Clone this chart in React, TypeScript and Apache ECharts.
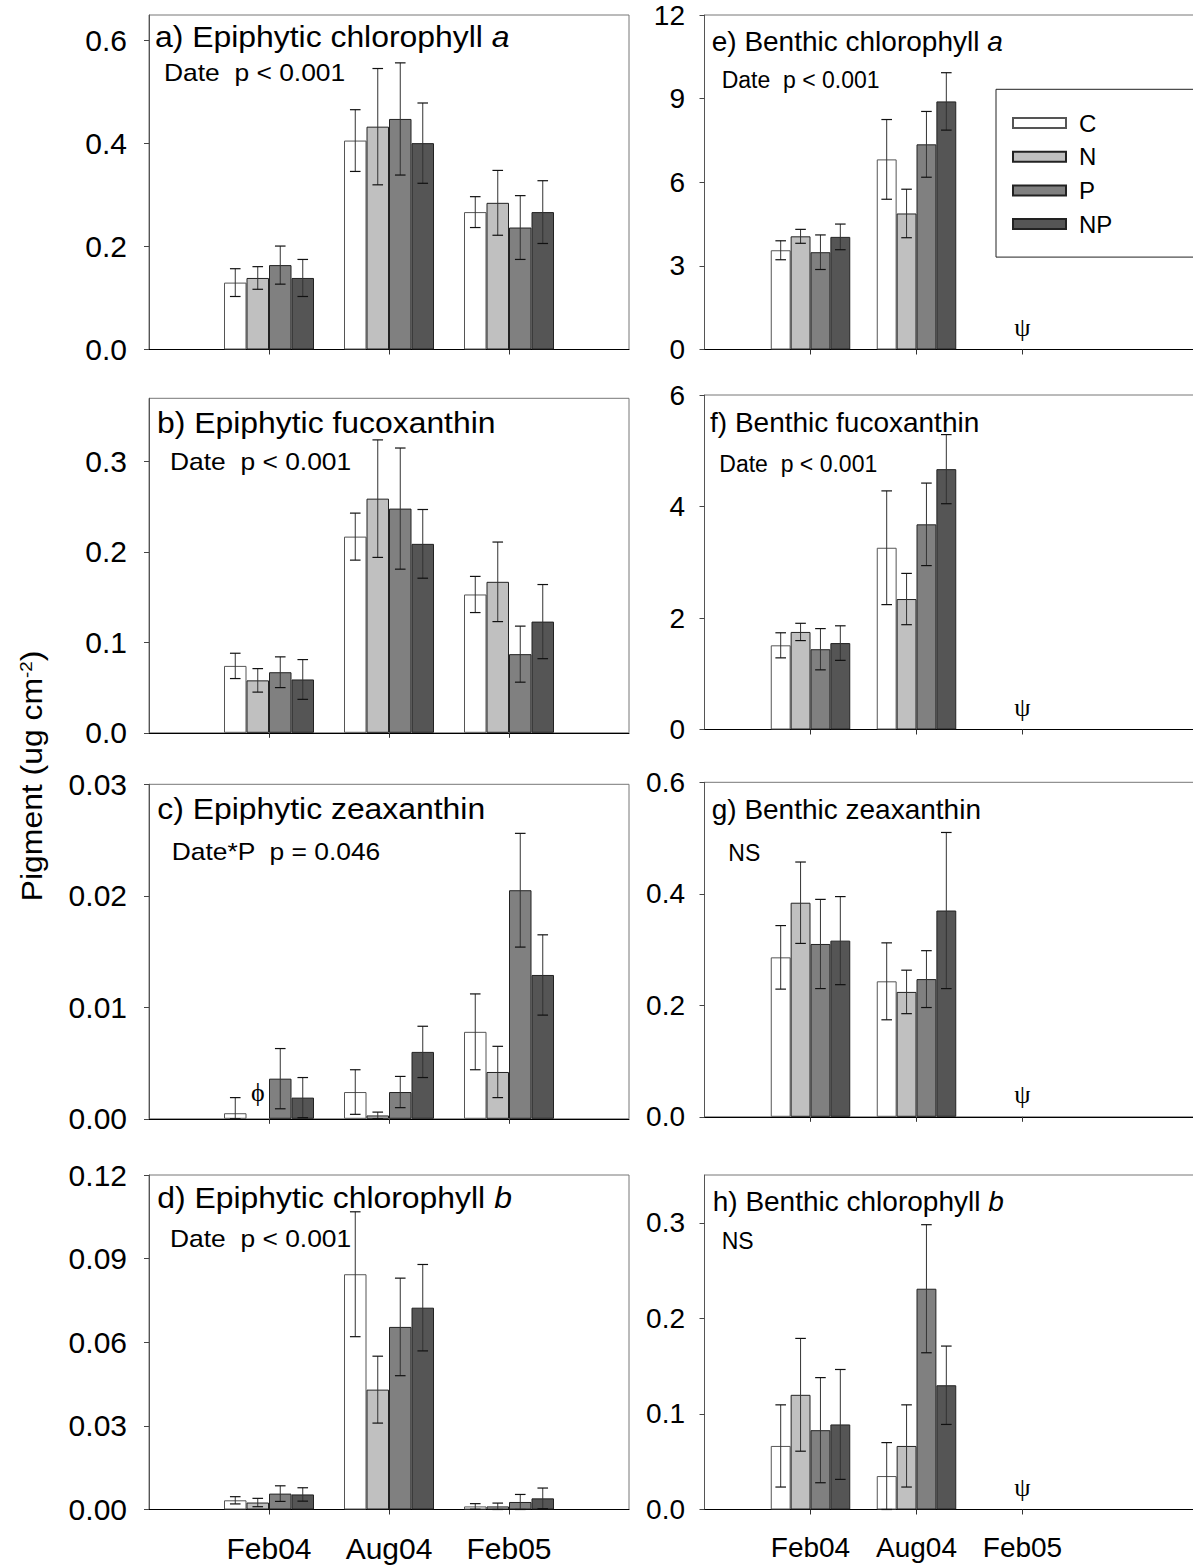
import React, { useEffect, useRef } from 'react';
import * as echarts from 'echarts';

// ---------------- data ----------------
const dates = ['Feb04', 'Aug04', 'Feb05'];
const treatments = ['C', 'N', 'P', 'NP'];
const treatmentColors = ['#ffffff', '#c0c0c0', '#808080', '#555555'];
const treatmentBorders = ['#555555', '#222222', '#222222', '#222222'];

// rows: treatment (C, N, P, NP); columns: date (Feb04, Aug04, Feb05); null = no data
const epiChlaMean = [[0.130, 0.406, 0.267], [0.139, 0.433, 0.285], [0.164, 0.448, 0.237], [0.139, 0.401, 0.267]];
const epiChlaErr = [[0.027, 0.060, 0.030], [0.022, 0.113, 0.063], [0.037, 0.109, 0.062], [0.036, 0.078, 0.061]];
const epiChlaTicks = ['0.0', '0.2', '0.4', '0.6'];

const epiFucoMean = [[0.074, 0.217, 0.153], [0.058, 0.259, 0.167], [0.067, 0.248, 0.087], [0.059, 0.209, 0.123]];
const epiFucoErr = [[0.014, 0.026, 0.020], [0.013, 0.065, 0.044], [0.017, 0.067, 0.031], [0.022, 0.038, 0.041]];
const epiFucoTicks = ['0.0', '0.1', '0.2', '0.3'];

const epiZeaMean = [[0.0005, 0.0024, 0.0078], [null, 0.0003, 0.0042], [0.0036, 0.0024, 0.0205], [0.0019, 0.0060, 0.0129]];
const epiZeaErr = [[0.0014, 0.0020, 0.0034], [0, 0.0003, 0.0023], [0.0027, 0.0014, 0.0051], [0.0018, 0.0023, 0.0036]];
const epiZeaTicks = ['0.00', '0.01', '0.02', '0.03'];

const epiChlbMean = [[0.0033, 0.0844, 0.0011], [0.0025, 0.0430, 0.0011], [0.0057, 0.0655, 0.0027], [0.0054, 0.0724, 0.0040]];
const epiChlbErr = [[0.0013, 0.0224, 0.0010], [0.0015, 0.0120, 0.0012], [0.0028, 0.0175, 0.0027], [0.0024, 0.0155, 0.0037]];
const epiChlbTicks = ['0.00', '0.03', '0.06', '0.09', '0.12'];

const benChlaMean = [[3.56, 6.82, null], [4.06, 4.88, null], [3.49, 7.36, null], [4.04, 8.90, null]];
const benChlaErr = [[0.34, 1.43, 0], [0.25, 0.87, 0], [0.62, 1.18, 0], [0.46, 1.03, 0]];
const benChlaTicks = ['0', '3', '6', '9', '12'];

const benFucoMean = [[1.51, 3.26, null], [1.75, 2.34, null], [1.44, 3.68, null], [1.55, 4.67, null]];
const benFucoErr = [[0.225, 1.02, 0], [0.155, 0.46, 0], [0.37, 0.74, 0], [0.31, 0.62, 0]];
const benFucoTicks = ['0', '2', '4', '6'];

const benZeaMean = [[0.286, 0.243, null], [0.384, 0.224, null], [0.310, 0.247, null], [0.316, 0.370, null]];
const benZeaErr = [[0.057, 0.069, 0], [0.073, 0.039, 0], [0.080, 0.051, 0], [0.079, 0.140, 0]];
const benZeaTicks = ['0.0', '0.2', '0.4', '0.6'];

const benChlbMean = [[0.0665, 0.035, null], [0.120, 0.0665, null], [0.083, 0.231, null], [0.089, 0.130, null]];
const benChlbErr = [[0.043, 0.035, 0], [0.059, 0.043, 0], [0.055, 0.067, 0], [0.0575, 0.041, 0]];
const benChlbTicks = ['0.0', '0.1', '0.2', '0.3'];

const yMaxValues = [0.65, 0.37, 0.03, 0.12, 12, 6, 0.6, 0.35];

const panelTitles = [
  ['a) Epiphytic chlorophyll ', 'a'],
  ['b) Epiphytic fucoxanthin', ''],
  ['c) Epiphytic zeaxanthin', ''],
  ['d) Epiphytic chlorophyll ', 'b'],
  ['e) Benthic chlorophyll ', 'a'],
  ['f) Benthic fucoxanthin', ''],
  ['g) Benthic zeaxanthin', ''],
  ['h) Benthic chlorophyll ', 'b'],
];
const panelStats = [
  'Date  p < 0.001',
  'Date  p < 0.001',
  'Date*P  p = 0.046',
  'Date  p < 0.001',
  'Date  p < 0.001',
  'Date  p < 0.001',
  'NS',
  'NS',
];
const yAxisTitle = ['Pigment (ug cm', '-2', ')'];
const allMissingSymbol = 'ψ';
const oneMissingSymbol = 'ϕ';

// ---------------- layout ----------------
const FONT = '"Liberation Sans", Arial, Helvetica, sans-serif';
const SERIF = '"Liberation Serif", "DejaVu Serif", "Times New Roman", serif';
const BAR_FRAC = 0.1875;
const GRID_H = 334.5;
const colLeft = [149, 704.5];
const colWidth = [480, 530];
const rowTops = [
  [15, 398.3, 784.3, 1175],
  [15, 395, 782.3, 1175],
];
const titlePos = [
  [155, 37], [157, 422.5], [157.3, 808.3], [157.3, 1198],
  [711.7, 41.7], [710, 422.5], [711.7, 809.5], [712.7, 1201],
];
const statPos = [
  [164, 72.5], [170, 461], [171.7, 851.7], [170, 1238.5],
  [721.7, 79.5], [719.3, 464], [728.3, 852.5], [721.7, 1241],
];

const panels = [
  { mean: epiChlaMean, err: epiChlaErr, ticks: epiChlaTicks },
  { mean: epiFucoMean, err: epiFucoErr, ticks: epiFucoTicks },
  { mean: epiZeaMean, err: epiZeaErr, ticks: epiZeaTicks },
  { mean: epiChlbMean, err: epiChlbErr, ticks: epiChlbTicks },
  { mean: benChlaMean, err: benChlaErr, ticks: benChlaTicks },
  { mean: benFucoMean, err: benFucoErr, ticks: benFucoTicks },
  { mean: benZeaMean, err: benZeaErr, ticks: benZeaTicks },
  { mean: benChlbMean, err: benChlbErr, ticks: benChlbTicks },
];

function errRender(params: any, api: any) {
  const cat = api.value(0);
  const mean = api.value(1);
  const err = api.value(2);
  const k = api.value(3);
  const band = api.size([1, 0])[0];
  const bw = band * BAR_FRAC;
  const base = api.coord([cat, mean]);
  const x = base[0] + (k - 1.5) * bw;
  const yTop = api.coord([cat, mean + err])[1];
  const yBot = api.coord([cat, Math.max(0, mean - err)])[1];
  const half = 5.3;
  return {
    type: 'group',
    children: [
      { type: 'line', shape: { x1: x, y1: yTop, x2: x, y2: yBot }, style: { stroke: '#333', lineWidth: 1 } },
      { type: 'line', shape: { x1: x - half, y1: yTop, x2: x + half, y2: yTop }, style: { stroke: '#111', lineWidth: 1.2 } },
      { type: 'line', shape: { x1: x - half, y1: yBot, x2: x + half, y2: yBot }, style: { stroke: '#111', lineWidth: 1.2 } },
    ],
  };
}

function panelMarkers(p: any) {
  const markers: any[] = [];
  dates.forEach((d, j) => {
    const missing = treatments.map((_t, k) => p.mean[k][j] == null);
    if (missing.every(Boolean)) markers.push({ date: d, k: 1.5, sym: allMissingSymbol });
    else missing.forEach((m, k) => { if (m) markers.push({ date: d, k, sym: oneMissingSymbol }); });
  });
  return markers;
}

function buildOption() {
  const grid: any[] = [];
  const xAxis: any[] = [];
  const yAxis: any[] = [];
  const series: any[] = [];

  panels.forEach((p, i) => {
    const col = i < 4 ? 0 : 1;
    const row = i % 4;
    grid.push({
      left: colLeft[col], top: rowTops[col][row], width: colWidth[col], height: GRID_H, show: true,
      borderColor: '#777', borderWidth: 1, containLabel: false, outerBoundsMode: 'none',
    });
    const cats = col === 0 ? ['pad0', ...dates, 'pad1'] : ['pad0', ...dates, 'pad1', 'pad2'];
    const isDate = (v: any) => dates.indexOf(v) >= 0;
    xAxis.push({
      type: 'category', gridIndex: i, data: cats, boundaryGap: false,
      axisLine: { show: true, onZero: false, lineStyle: { color: '#000', width: 1 } },
      axisTick: { show: true, length: 5, interval: (_idx: number, v: any) => isDate(v), lineStyle: { color: '#333' } },
      axisLabel: {
        show: row === 3, interval: 0, formatter: (v: any) => (isDate(v) ? v : ''),
        fontSize: col === 0 ? 30 : 28, fontFamily: FONT, color: '#000', margin: 24,
      },
      splitLine: { show: false },
    });
    const tickVals = p.ticks.map(Number);
    yAxis.push({
      type: 'value', gridIndex: i, min: 0, max: yMaxValues[i],
      axisLine: { show: true, lineStyle: { color: '#555' } },
      axisTick: { show: true, length: 5, lineStyle: { color: '#444' }, customValues: tickVals },
      axisLabel: {
        customValues: tickVals,
        formatter: (v: number) => {
          const idx = tickVals.indexOf(v);
          return idx >= 0 ? p.ticks[idx] : '';
        },
        fontSize: col === 0 ? 30 : 28, fontFamily: FONT, color: '#000', margin: col === 0 ? 22 : 19.5,
      },
      splitLine: { show: false },
    });

    treatments.forEach((t, k) => {
      series.push({
        type: 'bar', name: t, xAxisIndex: i, yAxisIndex: i,
        barWidth: (BAR_FRAC * 100) + '%', barGap: '0%',
        data: dates.map((d, j) => [d, p.mean[k][j]]),
        itemStyle: { color: treatmentColors[k], borderColor: treatmentBorders[k], borderWidth: 1 },
        emphasis: { disabled: true }, silent: true,
      });
    });

    const errData: any[] = [];
    treatments.forEach((_t, k) => {
      dates.forEach((d, j) => {
        const m = p.mean[k][j];
        if (m != null) errData.push([d, m, p.err[k][j], k]);
      });
    });
    series.push({
      type: 'custom', xAxisIndex: i, yAxisIndex: i, data: errData,
      renderItem: errRender, z: 5, silent: true, encode: { x: 0, y: 1 },
      itemStyle: { color: '#000' },
    });
  });

  return {
    animation: false,
    backgroundColor: '#ffffff',
    grid, xAxis, yAxis, series,
    legend: {
      data: treatments, orient: 'vertical', left: 996, top: 89.3,
      padding: [21.7, 110, 21, 16], itemWidth: 53, itemHeight: 10, itemGap: 9.7,
      borderColor: '#222', borderWidth: 1, selectedMode: false, icon: 'rect',
      textStyle: { fontSize: 24, fontFamily: FONT, color: '#000', padding: [0, 0, 0, 8] },
    },
  };
}

function buildGraphics(chart: any) {
  const graphic: any[] = [];
  panels.forEach((p, i) => {
    const col = i < 4 ? 0 : 1;
    const scale = col === 0 ? 1.1 : 1;
    const [tMain, tItal] = panelTitles[i];
    const tSize = col === 0 ? 29 : 28;
    graphic.push({
      type: 'text', x: titlePos[i][0], y: titlePos[i][1], scaleX: scale, silent: true,
      style: {
        text: tItal ? `{n|${tMain}}{i|${tItal}}` : `{n|${tMain}}`,
        rich: {
          n: { fontSize: tSize, fontFamily: FONT, fill: '#000' },
          i: { fontSize: tSize, fontFamily: FONT, fontStyle: 'italic', fill: '#000' },
        },
        align: 'left', verticalAlign: 'middle',
      },
    });
    graphic.push({
      type: 'text', x: statPos[i][0], y: statPos[i][1], scaleX: scale, silent: true,
      style: {
        text: panelStats[i], fontSize: col === 0 ? 24 : 23, fontFamily: FONT, fill: '#000',
        align: 'left', verticalAlign: 'middle',
      },
    });
    // missing-data markers, positioned through the panel's own scales
    const finder = { xAxisIndex: i, yAxisIndex: i };
    panelMarkers(p).forEach((m) => {
      const c = chart.convertToPixel(finder, [m.date, 0]);
      const c0 = chart.convertToPixel(finder, [dates[0], 0]);
      const c1 = chart.convertToPixel(finder, [dates[1], 0]);
      const band = c1[0] - c0[0];
      const x = c[0] + (m.k - 1.5) * band * BAR_FRAC;
      graphic.push({
        type: 'text', x, y: c[1] - (m.sym === allMissingSymbol ? 22 : 26), silent: true,
        style: { text: m.sym, fontSize: 26, fontFamily: SERIF, fill: '#000', align: 'center', verticalAlign: 'middle' },
      });
    });
  });

  graphic.push({
    type: 'text', x: 32, y: 776, rotation: Math.PI / 2, scaleX: 1.1, silent: true,
    style: {
      text: `{a|${yAxisTitle[0]}}{s|${yAxisTitle[1]}}{a|${yAxisTitle[2]}}`,
      rich: {
        a: { fontSize: 29, fontFamily: FONT, fill: '#000' },
        s: { fontSize: 17, fontFamily: FONT, fill: '#000', verticalAlign: 'top' },
      },
      align: 'center', verticalAlign: 'middle',
    },
  });
  return graphic;
}

export default function App() {
  const ref = useRef<HTMLDivElement>(null);
  useEffect(() => {
    if (!ref.current) return;
    document.body.style.margin = '0';
    const chart = echarts.init(ref.current, null, { renderer: 'svg', width: 1193, height: 1568 });
    chart.setOption(buildOption() as any);
    chart.setOption({ graphic: buildGraphics(chart) } as any);
    return () => chart.dispose();
  }, []);
  return <div ref={ref} style={{ position: 'absolute', left: 0, top: 0, width: 1193, height: 1568, background: '#fff' }} />;
}
